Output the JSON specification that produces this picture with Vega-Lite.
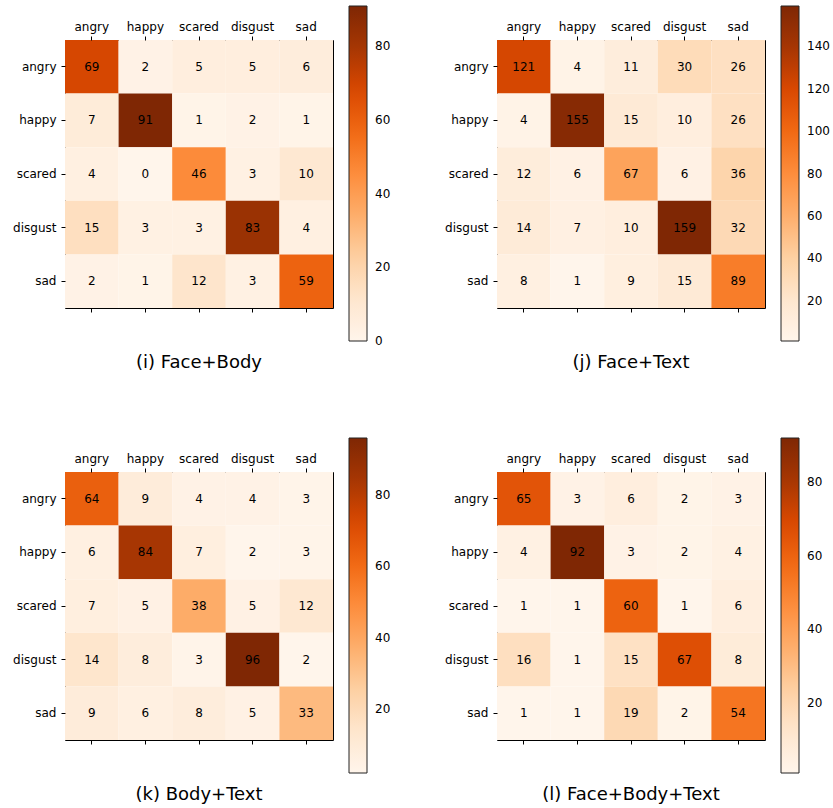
{
  "$schema": "https://vega.github.io/schema/vega-lite/v6.json",
  "padding": {"left": 12, "top": 5, "right": 2, "bottom": 2},
  "config": {
    "font": "DejaVu Sans",
    "view": {"stroke": "#000000", "strokeWidth": 1},
    "axis": {"labelFont": "DejaVu Sans", "labelFontSize": 12, "labelColor": "#000000", "tickColor": "#000000", "tickSize": 4, "domain": false, "grid": false, "title": null},
    "legend": {"labelFont": "DejaVu Sans", "labelFontSize": 12, "labelColor": "#000000"}
  },
  "datasets": {
    "i": [
      {"a":"angry","p":"angry","v":69},{"a":"angry","p":"happy","v":2},{"a":"angry","p":"scared","v":5},{"a":"angry","p":"disgust","v":5},{"a":"angry","p":"sad","v":6},
      {"a":"happy","p":"angry","v":7},{"a":"happy","p":"happy","v":91},{"a":"happy","p":"scared","v":1},{"a":"happy","p":"disgust","v":2},{"a":"happy","p":"sad","v":1},
      {"a":"scared","p":"angry","v":4},{"a":"scared","p":"happy","v":0},{"a":"scared","p":"scared","v":46},{"a":"scared","p":"disgust","v":3},{"a":"scared","p":"sad","v":10},
      {"a":"disgust","p":"angry","v":15},{"a":"disgust","p":"happy","v":3},{"a":"disgust","p":"scared","v":3},{"a":"disgust","p":"disgust","v":83},{"a":"disgust","p":"sad","v":4},
      {"a":"sad","p":"angry","v":2},{"a":"sad","p":"happy","v":1},{"a":"sad","p":"scared","v":12},{"a":"sad","p":"disgust","v":3},{"a":"sad","p":"sad","v":59}
    ],
    "j": [
      {"a":"angry","p":"angry","v":121},{"a":"angry","p":"happy","v":4},{"a":"angry","p":"scared","v":11},{"a":"angry","p":"disgust","v":30},{"a":"angry","p":"sad","v":26},
      {"a":"happy","p":"angry","v":4},{"a":"happy","p":"happy","v":155},{"a":"happy","p":"scared","v":15},{"a":"happy","p":"disgust","v":10},{"a":"happy","p":"sad","v":26},
      {"a":"scared","p":"angry","v":12},{"a":"scared","p":"happy","v":6},{"a":"scared","p":"scared","v":67},{"a":"scared","p":"disgust","v":6},{"a":"scared","p":"sad","v":36},
      {"a":"disgust","p":"angry","v":14},{"a":"disgust","p":"happy","v":7},{"a":"disgust","p":"scared","v":10},{"a":"disgust","p":"disgust","v":159},{"a":"disgust","p":"sad","v":32},
      {"a":"sad","p":"angry","v":8},{"a":"sad","p":"happy","v":1},{"a":"sad","p":"scared","v":9},{"a":"sad","p":"disgust","v":15},{"a":"sad","p":"sad","v":89}
    ],
    "k": [
      {"a":"angry","p":"angry","v":64},{"a":"angry","p":"happy","v":9},{"a":"angry","p":"scared","v":4},{"a":"angry","p":"disgust","v":4},{"a":"angry","p":"sad","v":3},
      {"a":"happy","p":"angry","v":6},{"a":"happy","p":"happy","v":84},{"a":"happy","p":"scared","v":7},{"a":"happy","p":"disgust","v":2},{"a":"happy","p":"sad","v":3},
      {"a":"scared","p":"angry","v":7},{"a":"scared","p":"happy","v":5},{"a":"scared","p":"scared","v":38},{"a":"scared","p":"disgust","v":5},{"a":"scared","p":"sad","v":12},
      {"a":"disgust","p":"angry","v":14},{"a":"disgust","p":"happy","v":8},{"a":"disgust","p":"scared","v":3},{"a":"disgust","p":"disgust","v":96},{"a":"disgust","p":"sad","v":2},
      {"a":"sad","p":"angry","v":9},{"a":"sad","p":"happy","v":6},{"a":"sad","p":"scared","v":8},{"a":"sad","p":"disgust","v":5},{"a":"sad","p":"sad","v":33}
    ],
    "l": [
      {"a":"angry","p":"angry","v":65},{"a":"angry","p":"happy","v":3},{"a":"angry","p":"scared","v":6},{"a":"angry","p":"disgust","v":2},{"a":"angry","p":"sad","v":3},
      {"a":"happy","p":"angry","v":4},{"a":"happy","p":"happy","v":92},{"a":"happy","p":"scared","v":3},{"a":"happy","p":"disgust","v":2},{"a":"happy","p":"sad","v":4},
      {"a":"scared","p":"angry","v":1},{"a":"scared","p":"happy","v":1},{"a":"scared","p":"scared","v":60},{"a":"scared","p":"disgust","v":1},{"a":"scared","p":"sad","v":6},
      {"a":"disgust","p":"angry","v":16},{"a":"disgust","p":"happy","v":1},{"a":"disgust","p":"scared","v":15},{"a":"disgust","p":"disgust","v":67},{"a":"disgust","p":"sad","v":8},
      {"a":"sad","p":"angry","v":1},{"a":"sad","p":"happy","v":1},{"a":"sad","p":"scared","v":19},{"a":"sad","p":"disgust","v":2},{"a":"sad","p":"sad","v":54}
    ]
  },
  "columns": 2,
  "bounds": "flush",
  "spacing": {"row": 164, "column": 164},
  "resolve": {"scale": {"color": "independent", "x": "independent", "y": "independent"}, "legend": {"color": "independent"}},
  "concat": [
    {
      "data": {"name": "i"},
      "width": 268, "height": 268,
      "title": {"text": "(i) Face+Body", "orient": "bottom", "anchor": "middle", "frame": "group", "fontSize": 18, "fontWeight": "normal", "color": "#000000", "offset": 7},
      "resolve": {"axis": {"x": "independent", "y": "independent"}},
      "layer": [
        {"mark": {"type": "rect"},
         "encoding": {
           "x": {"field": "p", "type": "nominal", "sort": ["angry","happy","scared","disgust","sad"], "scale": {"paddingInner": 0, "paddingOuter": 0}, "axis": {"orient": "top", "labelAngle": 0, "labelPadding": 3}},
           "y": {"field": "a", "type": "nominal", "sort": ["angry","happy","scared","disgust","sad"], "scale": {"paddingInner": 0, "paddingOuter": 0}, "axis": {"orient": "left", "labelAngle": 0, "labelPadding": 5}},
           "color": {"field": "v", "type": "quantitative", "scale": {"domain": [0, 11.375, 22.75, 34.125, 45.5, 56.875, 68.25, 79.625, 91], "range": ["#fff5eb", "#fee6ce", "#fdd0a2", "#fdae6b", "#fd8d3c", "#f16913", "#d94801", "#a63603", "#7f2704"], "interpolate": "rgb", "nice": false, "zero": false},
             "legend": {"title": null, "orient": "none", "legendX": 284, "legendY": -34, "gradientLength": 335, "gradientThickness": 18, "gradientStrokeColor": "#222222", "gradientStrokeWidth": 1, "labelOffset": 8, "labelBaseline": "middle", "values": [0, 20, 40, 60, 80],
               "encode": {"labels": {"update": {"baseline": {"value": "middle"}}}}}}
         }},
        {"mark": {"type": "text", "fontSize": 12, "color": "#000000"},
         "encoding": {
           "x": {"field": "p", "type": "nominal", "sort": ["angry","happy","scared","disgust","sad"], "scale": {"paddingInner": 0, "paddingOuter": 0}, "axis": {"orient": "bottom", "labels": false}},
           "y": {"field": "a", "type": "nominal", "sort": ["angry","happy","scared","disgust","sad"], "scale": {"paddingInner": 0, "paddingOuter": 0}, "axis": null},
           "text": {"field": "v", "type": "quantitative"}
         }}
      ]
    },
    {
      "data": {"name": "j"},
      "width": 268, "height": 268,
      "title": {"text": "(j) Face+Text", "orient": "bottom", "anchor": "middle", "frame": "group", "fontSize": 18, "fontWeight": "normal", "color": "#000000", "offset": 12},
      "resolve": {"axis": {"x": "independent", "y": "independent"}},
      "layer": [
        {"mark": {"type": "rect"},
         "encoding": {
           "x": {"field": "p", "type": "nominal", "sort": ["angry","happy","scared","disgust","sad"], "scale": {"paddingInner": 0, "paddingOuter": 0}, "axis": {"orient": "top", "labelAngle": 0, "labelPadding": 3}},
           "y": {"field": "a", "type": "nominal", "sort": ["angry","happy","scared","disgust","sad"], "scale": {"paddingInner": 0, "paddingOuter": 0}, "axis": {"orient": "left", "labelAngle": 0, "labelPadding": 5}},
           "color": {"field": "v", "type": "quantitative", "scale": {"domain": [1, 20.75, 40.5, 60.25, 80, 99.75, 119.5, 139.25, 159], "range": ["#fff5eb", "#fee6ce", "#fdd0a2", "#fdae6b", "#fd8d3c", "#f16913", "#d94801", "#a63603", "#7f2704"], "interpolate": "rgb", "nice": false, "zero": false},
             "legend": {"title": null, "orient": "none", "legendX": 284, "legendY": -34, "gradientLength": 335, "gradientThickness": 18, "gradientStrokeColor": "#222222", "gradientStrokeWidth": 1, "labelOffset": 8, "labelBaseline": "middle", "values": [20, 40, 60, 80, 100, 120, 140]}}
         }},
        {"mark": {"type": "text", "fontSize": 12, "color": "#000000"},
         "encoding": {
           "x": {"field": "p", "type": "nominal", "sort": ["angry","happy","scared","disgust","sad"], "scale": {"paddingInner": 0, "paddingOuter": 0}, "axis": {"orient": "bottom", "labels": false}},
           "y": {"field": "a", "type": "nominal", "sort": ["angry","happy","scared","disgust","sad"], "scale": {"paddingInner": 0, "paddingOuter": 0}, "axis": null},
           "text": {"field": "v", "type": "quantitative"}
         }}
      ]
    },
    {
      "data": {"name": "k"},
      "width": 268, "height": 268,
      "title": {"text": "(k) Body+Text", "orient": "bottom", "anchor": "middle", "frame": "group", "fontSize": 18, "fontWeight": "normal", "color": "#000000", "offset": 12},
      "resolve": {"axis": {"x": "independent", "y": "independent"}},
      "layer": [
        {"mark": {"type": "rect"},
         "encoding": {
           "x": {"field": "p", "type": "nominal", "sort": ["angry","happy","scared","disgust","sad"], "scale": {"paddingInner": 0, "paddingOuter": 0}, "axis": {"orient": "top", "labelAngle": 0, "labelPadding": 3}},
           "y": {"field": "a", "type": "nominal", "sort": ["angry","happy","scared","disgust","sad"], "scale": {"paddingInner": 0, "paddingOuter": 0}, "axis": {"orient": "left", "labelAngle": 0, "labelPadding": 5}},
           "color": {"field": "v", "type": "quantitative", "scale": {"domain": [2, 13.75, 25.5, 37.25, 49, 60.75, 72.5, 84.25, 96], "range": ["#fff5eb", "#fee6ce", "#fdd0a2", "#fdae6b", "#fd8d3c", "#f16913", "#d94801", "#a63603", "#7f2704"], "interpolate": "rgb", "nice": false, "zero": false},
             "legend": {"title": null, "orient": "none", "legendX": 284, "legendY": -34, "gradientLength": 335, "gradientThickness": 18, "gradientStrokeColor": "#222222", "gradientStrokeWidth": 1, "labelOffset": 8, "labelBaseline": "middle", "values": [20, 40, 60, 80]}}
         }},
        {"mark": {"type": "text", "fontSize": 12, "color": "#000000"},
         "encoding": {
           "x": {"field": "p", "type": "nominal", "sort": ["angry","happy","scared","disgust","sad"], "scale": {"paddingInner": 0, "paddingOuter": 0}, "axis": {"orient": "bottom", "labels": false}},
           "y": {"field": "a", "type": "nominal", "sort": ["angry","happy","scared","disgust","sad"], "scale": {"paddingInner": 0, "paddingOuter": 0}, "axis": null},
           "text": {"field": "v", "type": "quantitative"}
         }}
      ]
    },
    {
      "data": {"name": "l"},
      "width": 268, "height": 268,
      "title": {"text": "(l) Face+Body+Text", "orient": "bottom", "anchor": "middle", "frame": "group", "fontSize": 18, "fontWeight": "normal", "color": "#000000", "offset": 12},
      "resolve": {"axis": {"x": "independent", "y": "independent"}},
      "layer": [
        {"mark": {"type": "rect"},
         "encoding": {
           "x": {"field": "p", "type": "nominal", "sort": ["angry","happy","scared","disgust","sad"], "scale": {"paddingInner": 0, "paddingOuter": 0}, "axis": {"orient": "top", "labelAngle": 0, "labelPadding": 3}},
           "y": {"field": "a", "type": "nominal", "sort": ["angry","happy","scared","disgust","sad"], "scale": {"paddingInner": 0, "paddingOuter": 0}, "axis": {"orient": "left", "labelAngle": 0, "labelPadding": 5}},
           "color": {"field": "v", "type": "quantitative", "scale": {"domain": [1, 12.375, 23.75, 35.125, 46.5, 57.875, 69.25, 80.625, 92], "range": ["#fff5eb", "#fee6ce", "#fdd0a2", "#fdae6b", "#fd8d3c", "#f16913", "#d94801", "#a63603", "#7f2704"], "interpolate": "rgb", "nice": false, "zero": false},
             "legend": {"title": null, "orient": "none", "legendX": 284, "legendY": -34, "gradientLength": 335, "gradientThickness": 18, "gradientStrokeColor": "#222222", "gradientStrokeWidth": 1, "labelOffset": 8, "labelBaseline": "middle", "values": [20, 40, 60, 80]}}
         }},
        {"mark": {"type": "text", "fontSize": 12, "color": "#000000"},
         "encoding": {
           "x": {"field": "p", "type": "nominal", "sort": ["angry","happy","scared","disgust","sad"], "scale": {"paddingInner": 0, "paddingOuter": 0}, "axis": {"orient": "bottom", "labels": false}},
           "y": {"field": "a", "type": "nominal", "sort": ["angry","happy","scared","disgust","sad"], "scale": {"paddingInner": 0, "paddingOuter": 0}, "axis": null},
           "text": {"field": "v", "type": "quantitative"}
         }}
      ]
    }
  ]
}
